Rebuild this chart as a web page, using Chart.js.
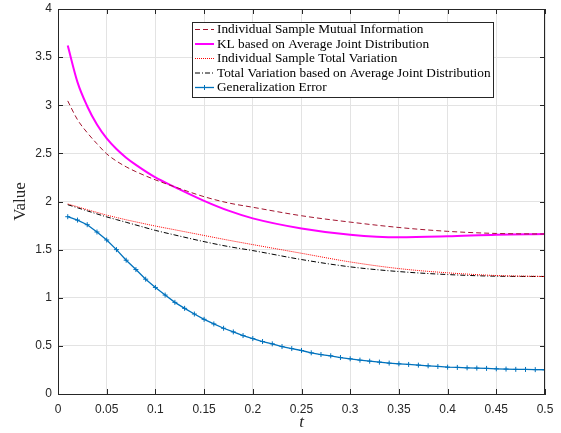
<!DOCTYPE html>
<html lang="en">
<head>
  <meta charset="UTF-8" />
  <title>Value vs t</title>
  <script src="https://cdn.jsdelivr.net/npm/chart.js"></script>
  <style>
    body { margin: 0; background: #fff; }
    canvas { display: block; }
  </style>
</head>
<body>
  <canvas id="chart" width="561" height="433"></canvas>

  <script>
    // t grid for the smooth curves
    const tCurve = [0.01, 0.02, 0.03, 0.04, 0.05, 0.06, 0.07, 0.08, 0.1, 0.12, 0.15, 0.175, 0.2, 0.25, 0.3, 0.35, 0.4, 0.45, 0.5];
    const mutualInfo = [3.045, 2.85, 2.715, 2.60, 2.495, 2.42, 2.36, 2.31, 2.225, 2.152, 2.05, 1.985, 1.94, 1.852, 1.786, 1.73, 1.69, 1.668, 1.662];
    const klAverage = [3.62, 3.24, 2.99, 2.80, 2.655, 2.545, 2.455, 2.38, 2.25, 2.15, 2.007, 1.905, 1.825, 1.72, 1.655, 1.628, 1.638, 1.655, 1.662];
    const tvSample = [1.974, 1.945, 1.915, 1.887, 1.858, 1.834, 1.81, 1.788, 1.745, 1.706, 1.647, 1.598, 1.552, 1.462, 1.372, 1.303, 1.259, 1.231, 1.221];
    const tvAverage = [1.967, 1.935, 1.903, 1.871, 1.84, 1.812, 1.784, 1.756, 1.70, 1.652, 1.583, 1.532, 1.49, 1.397, 1.321, 1.272, 1.241, 1.224, 1.221];

    // generalization error, one marker per 0.01
    const tGen = [0.01, 0.02, 0.03, 0.04, 0.05, 0.06, 0.07, 0.08, 0.09, 0.10,
                  0.11, 0.12, 0.13, 0.14, 0.15, 0.16, 0.17, 0.18, 0.19, 0.20,
                  0.21, 0.22, 0.23, 0.24, 0.25, 0.26, 0.27, 0.28, 0.29, 0.30,
                  0.31, 0.32, 0.33, 0.34, 0.35, 0.36, 0.37, 0.38, 0.39, 0.40,
                  0.41, 0.42, 0.43, 0.44, 0.45, 0.46, 0.47, 0.48, 0.49, 0.50];
    const genError = [1.842, 1.807, 1.759, 1.683, 1.600, 1.500, 1.390, 1.293, 1.193, 1.107,
                      1.028, 0.952, 0.890, 0.831, 0.776, 0.728, 0.683, 0.645, 0.607, 0.576,
                      0.545, 0.521, 0.493, 0.472, 0.452, 0.428, 0.410, 0.397, 0.379, 0.366,
                      0.352, 0.341, 0.331, 0.321, 0.314, 0.307, 0.300, 0.293, 0.286, 0.279,
                      0.276, 0.272, 0.269, 0.266, 0.262, 0.259, 0.256, 0.255, 0.253, 0.252];

    const xTicks = [0, 0.05, 0.1, 0.15, 0.2, 0.25, 0.3, 0.35, 0.4, 0.45, 0.5];
    const yTicks = [0, 0.5, 1, 1.5, 2, 2.5, 3, 3.5, 4];

    const zip = (xs, ys) => xs.map((x, i) => ({ x: x, y: ys[i] }));
    const axisColor = '#262626';

    // box, inward ticks and the legend, drawn the MATLAB way
    const matlabFrame = {
      id: 'matlabFrame',
      afterDatasetsDraw(chart) {
        const { ctx, chartArea: a, scales } = chart;
        ctx.save();
        ctx.strokeStyle = axisColor;
        ctx.lineWidth = 1;
        ctx.beginPath();
        xTicks.forEach(v => {
          const px = Math.round(scales.x.getPixelForValue(v)) + 0.5;
          ctx.moveTo(px, a.bottom); ctx.lineTo(px, a.bottom - 5);
          ctx.moveTo(px, a.top); ctx.lineTo(px, a.top + 5);
        });
        yTicks.forEach(v => {
          const py = Math.round(scales.y.getPixelForValue(v)) + 0.5;
          ctx.moveTo(a.left, py); ctx.lineTo(a.left + 5, py);
          ctx.moveTo(a.right, py); ctx.lineTo(a.right - 5, py);
        });
        ctx.stroke();
        ctx.strokeRect(Math.round(a.left) + 0.5, Math.round(a.top) + 0.5,
                       Math.round(a.right - a.left) - 1, Math.round(a.bottom - a.top));

        // legend
        const lx = 192.5, ly = 22.5, lw = 301, lh = 75;
        ctx.fillStyle = '#fff';
        ctx.fillRect(lx, ly, lw, lh);
        ctx.strokeRect(lx, ly, lw, lh);
        ctx.font = '13.3px "Liberation Serif"';
        ctx.textBaseline = 'middle';
        chart.data.datasets.forEach((ds, i) => {
          const y = 29.5 + i * 14.5;
          ctx.strokeStyle = ds.borderColor;
          ctx.lineWidth = ds.borderWidth;
          ctx.setLineDash(ds.borderDash || []);
          ctx.beginPath();
          ctx.moveTo(195, y); ctx.lineTo(214, y);
          ctx.stroke();
          ctx.setLineDash([]);
          if (ds.pointRadius > 0) {
            ctx.lineWidth = 1;
            ctx.beginPath();
            ctx.moveTo(204.5 - 2.5, y); ctx.lineTo(204.5 + 2.5, y);
            ctx.moveTo(204.5, y - 2.5); ctx.lineTo(204.5, y + 2.5);
            ctx.stroke();
          }
          ctx.fillStyle = '#000';
          ctx.fillText(ds.label, 217, y + 0.5);
        });
        ctx.restore();
      }
    };

    new Chart(document.getElementById('chart'), {
      type: 'line',
      data: {
        datasets: [
          {
            label: 'Individual Sample Mutual Information',
            data: zip(tCurve, mutualInfo),
            borderColor: '#A2142F', borderWidth: 1, borderDash: [5, 3],
            pointRadius: 0, cubicInterpolationMode: 'monotone'
          },
          {
            label: 'KL based on Average Joint Distribution',
            data: zip(tCurve, klAverage),
            borderColor: '#FF00FF', borderWidth: 2,
            pointRadius: 0, cubicInterpolationMode: 'monotone'
          },
          {
            label: 'Individual Sample Total Variation',
            data: zip(tCurve, tvSample),
            borderColor: '#FF0000', borderWidth: 1, borderDash: [1, 1],
            pointRadius: 0, cubicInterpolationMode: 'monotone'
          },
          {
            label: 'Total Variation based on Average Joint Distribution',
            data: zip(tCurve, tvAverage),
            borderColor: '#000000', borderWidth: 1, borderDash: [5, 2, 1, 2],
            pointRadius: 0, cubicInterpolationMode: 'monotone'
          },
          {
            label: 'Generalization Error',
            data: zip(tGen, genError),
            borderColor: '#0072BD', borderWidth: 1.3,
            pointStyle: 'cross', pointRadius: 2.5, pointBorderWidth: 1,
            pointBorderColor: '#0072BD', pointHoverRadius: 2.5
          }
        ]
      },
      options: {
        responsive: false,
        animation: false,
        layout: { padding: { top: 9, right: 16, left: 0, bottom: 0 } },
        plugins: { legend: { display: false }, tooltip: { enabled: false } },
        scales: {
          x: {
            type: 'linear', min: 0, max: 0.5,
            afterFit: s => { s.height = 39; s.paddingLeft = 0; s.paddingRight = 0; },
            afterBuildTicks: s => { s.ticks = xTicks.map(v => ({ value: v })); },
            grid: { color: '#e3e3e3', drawTicks: false },
            border: { color: axisColor },
            ticks: {
              padding: 8, color: axisColor,
              font: { family: '"Liberation Sans"', size: 12 },
              callback: v => String(+v.toFixed(2))
            },
            title: {
              display: true, text: 't', color: axisColor,
              font: { family: '"Liberation Serif"', size: 17, style: 'italic' },
              padding: { top: 0, bottom: 0 }
            }
          },
          y: {
            min: 0, max: 4,
            afterFit: s => { s.width = 58; s.paddingTop = 0; s.paddingBottom = 0; },
            afterBuildTicks: s => { s.ticks = yTicks.map(v => ({ value: v })); },
            grid: { color: '#e3e3e3', drawTicks: false },
            border: { color: axisColor },
            ticks: {
              padding: 6, color: axisColor,
              font: { family: '"Liberation Sans"', size: 12 },
              callback: v => String(v)
            },
            title: {
              display: true, text: 'Value', color: axisColor,
              font: { family: '"Liberation Serif"', size: 17 },
              padding: { top: 10, bottom: 0 }
            }
          }
        }
      },
      plugins: [matlabFrame]
    });
  </script>
</body>
</html>
